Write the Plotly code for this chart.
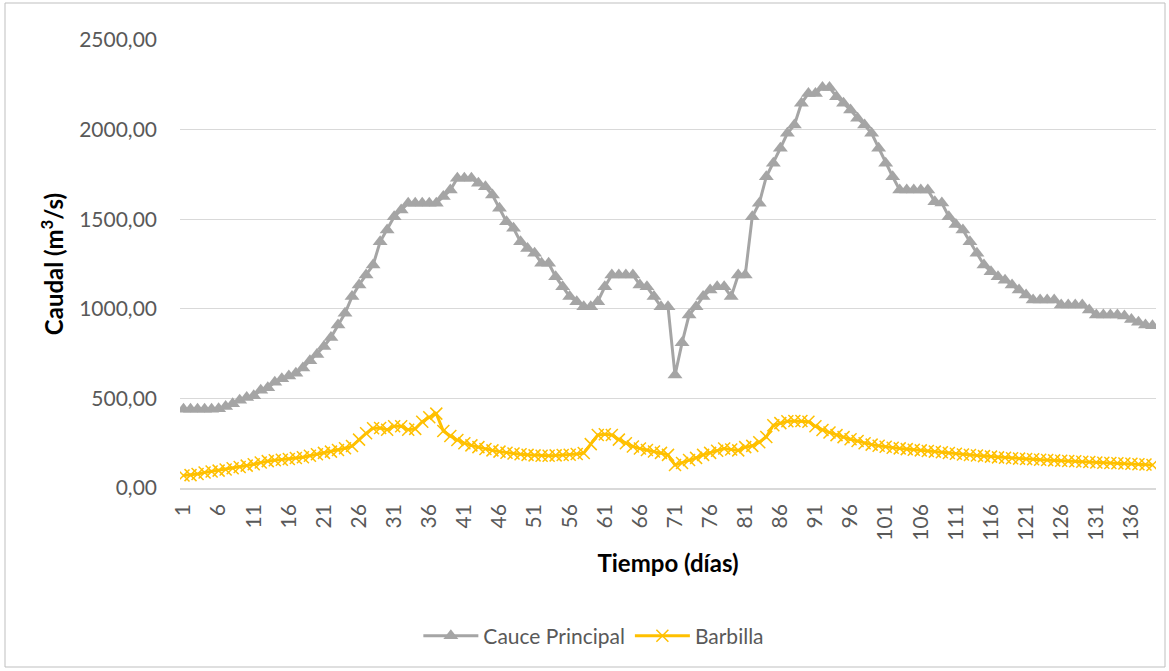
import plotly.graph_objects as go

# Day index (category axis)
dias = list(range(1, 140))

cauce_principal = [
    440, 440, 440, 440, 440, 442, 455, 470, 490, 505,
    515, 545, 560, 590, 610, 625, 640, 670, 710, 745,
    790, 840, 910, 975, 1068, 1133, 1189, 1244, 1374, 1440,
    1514, 1551, 1589, 1589, 1589, 1589, 1589, 1626, 1663, 1728,
    1728, 1728, 1700, 1681, 1635, 1561, 1486, 1449, 1374, 1337,
    1310, 1254, 1254, 1179, 1123, 1068, 1040, 1012, 1012, 1040,
    1123, 1189, 1189, 1189, 1189, 1133, 1123, 1068, 1012, 1012,
    630, 810, 965, 1012, 1068, 1105, 1123, 1123, 1068, 1189,
    1189, 1514, 1589, 1737, 1812, 1896, 1979, 2026, 2147, 2202,
    2202, 2235, 2235, 2184, 2147, 2109, 2063, 2026, 1979, 1896,
    1812, 1737, 1663, 1663, 1663, 1663, 1663, 1598, 1590, 1514,
    1470, 1440, 1374, 1310, 1244, 1207, 1179, 1160, 1133, 1105,
    1077, 1049, 1049, 1049, 1049, 1021, 1021, 1021, 1021, 993,
    965, 965, 965, 965, 960, 940, 925, 910, 905,
]

barbilla = [
    70, 72, 78, 86, 92, 97, 103, 110, 117, 125,
    133, 142, 150, 155, 158, 162, 167, 172, 180, 188,
    196, 203, 212, 222, 234, 270, 305, 333, 335, 325,
    345, 345, 325, 330, 370, 395, 415, 318, 290, 268,
    250, 238, 228, 218, 210, 203, 197, 192, 188, 185,
    182, 180, 180, 182, 184, 186, 190, 195, 245, 296,
    300, 296, 270, 250, 232, 220, 212, 204, 196, 185,
    128, 140, 156, 168, 185, 196, 208, 220, 215, 210,
    228, 235, 255, 285, 350, 362, 372, 374, 374, 370,
    345, 324, 310, 295, 284, 272, 262, 250, 242, 236,
    230, 225, 221, 217, 213, 210, 206, 203, 199, 195,
    191, 187, 184, 181, 178, 175, 171, 169, 166, 164,
    162, 160, 158, 156, 154, 152, 151, 149, 147, 145,
    142, 141, 139, 138, 137, 135, 133, 131, 128,
]

x_ticks = list(range(1, 140, 5))
y_ticks = [0, 500, 1000, 1500, 2000, 2500]

FONT = "Lato, Carlito, 'Liberation Sans', sans-serif"
GRAY_TXT = "#595959"

fig = go.Figure()
fig.add_trace(go.Scatter(
    x=dias, y=cauce_principal, name="Cauce Principal",
    mode="lines+markers",
    line=dict(color="#A5A5A5", width=3),
    marker=dict(symbol="triangle-up", size=13, color="#A5A5A5"),
))
fig.add_trace(go.Scatter(
    x=dias, y=barbilla, name="Barbilla",
    mode="lines+markers",
    line=dict(color="#FFC000", width=3),
    marker=dict(symbol="x-thin", size=12, color="#FFC000",
                line=dict(color="#FFC000", width=1.5)),
))

fig.update_layout(
    width=1169, height=671,
    paper_bgcolor="white", plot_bgcolor="white",
    margin=dict(l=180, r=13, t=40, b=183),
    separators=",.",
    font=dict(family=FONT, color=GRAY_TXT, size=20),
    showlegend=True,
    legend=dict(orientation="h", xref="container", yref="container",
                x=0.508, xanchor="center", y=0.052, yanchor="middle",
                font=dict(size=21, color=GRAY_TXT),
                itemwidth=55, tracegroupgap=0),
    xaxis=dict(
        range=[0.5, 139.5], tickmode="array", tickvals=x_ticks,
        ticktext=[str(t) for t in x_ticks], tickangle=-90,
        showgrid=False, showline=True, linecolor="#D9D9D9", linewidth=1.5,
        ticks="", ticklabelstandoff=6, tickfont=dict(size=21, color=GRAY_TXT),
        title=dict(text="<b>Tiempo (días)</b>", font=dict(size=24, color="black"),
                   standoff=16),
        zeroline=False,
    ),
    yaxis=dict(
        range=[0, 2500], tickmode="array", tickvals=y_ticks,
        tickformat=".2f", showgrid=True, gridcolor="#D9D9D9", gridwidth=1.2,
        zeroline=False, showline=False, ticks="",
        ticklabelstandoff=22,
        tickfont=dict(size=21, color=GRAY_TXT),
        title=dict(text="<b>Caudal (m<sup>3</sup>/s)</b>", font=dict(size=24, color="black"),
                   standoff=8),
    ),
)

# Outer chart border
fig.add_shape(type="rect", xref="paper", yref="paper",
              x0=(5 - 180) / 976, x1=(1165 - 180) / 976,
              y0=(488 - 667) / 448, y1=(488 - 3) / 448,
              line=dict(color="#BFBFBF", width=1), fillcolor="rgba(0,0,0,0)", layer="below")

fig.write_html("out.html",
               config={"displayModeBar": False},
               post_script="document.body.style.margin='0';document.body.style.padding='0';")
